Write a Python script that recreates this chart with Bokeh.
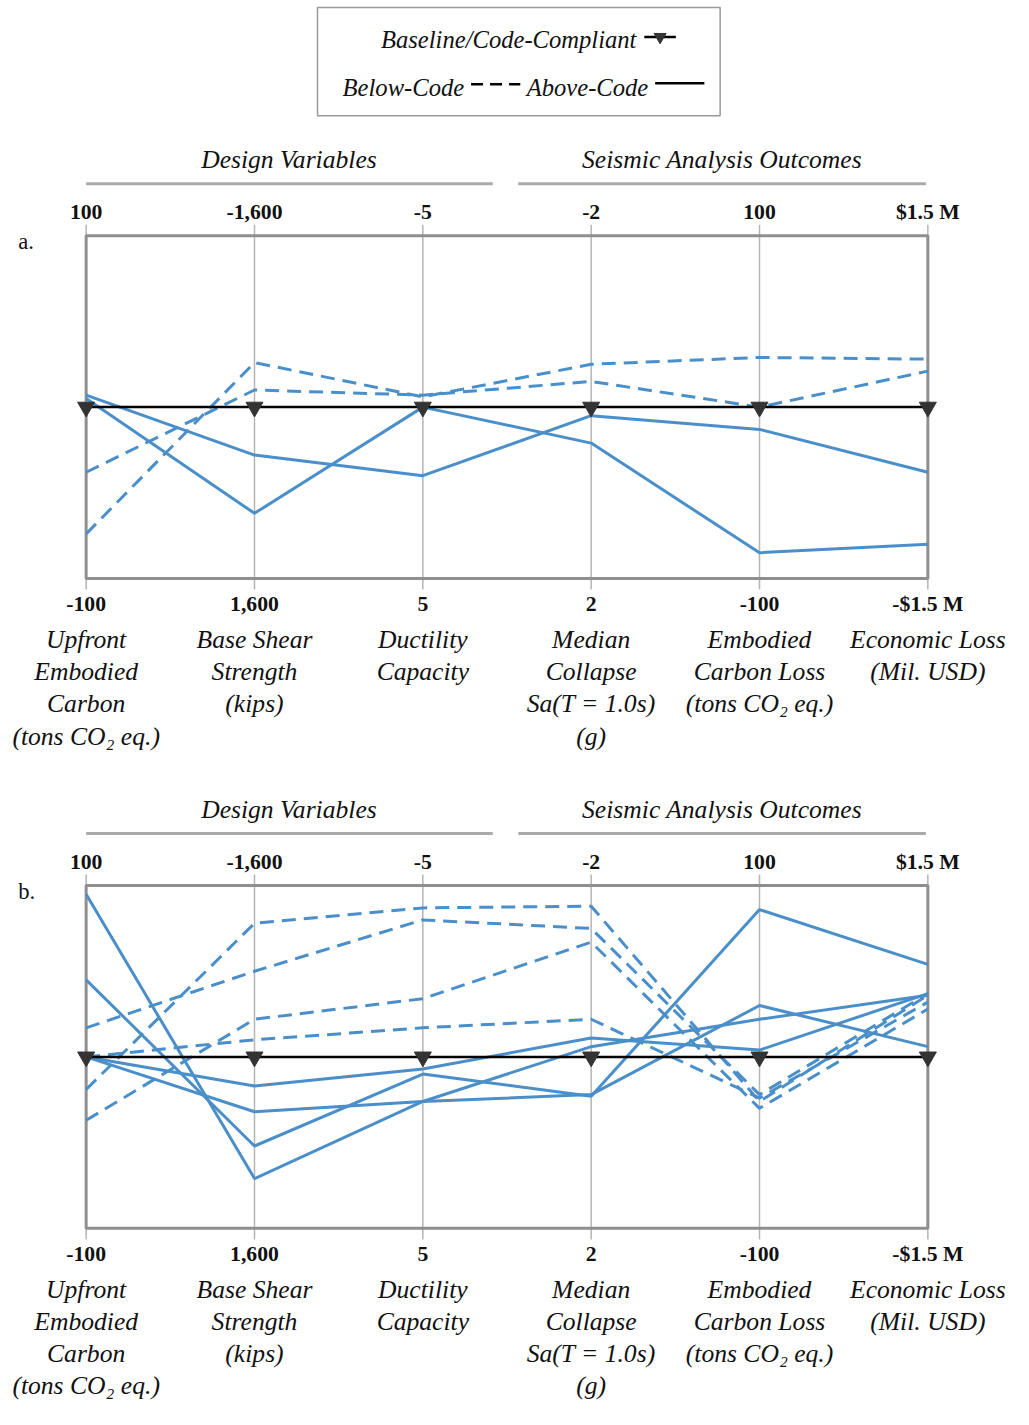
from bokeh.plotting import figure
from bokeh.models import Range1d
from bokeh.embed import file_html
from bokeh.resources import INLINE
from bokeh.core.properties import value

# ---------------- data ----------------
axis_pos = [0, 1, 2, 3, 4, 5]
top_labels = ["100", "-1,600", "-5", "-2", "100", "$1.5 M"]
bottom_labels = ["-100", "1,600", "5", "2", "-100", "-$1.5 M"]
axis_titles = [
    ["Upfront", "Embodied", "Carbon", "(tons CO\u2082 eq.)"],
    ["Base Shear", "Strength", "(kips)"],
    ["Ductility", "Capacity"],
    ["Median", "Collapse", "Sa(T = 1.0s)", "(g)"],
    ["Embodied", "Carbon Loss", "(tons CO\u2082 eq.)"],
    ["Economic Loss", "(Mil. USD)"],
]
group_names = ["Design Variables", "Seismic Analysis Outcomes"]
panel_names = ["a.", "b."]
baseline = [0, 0, 0, 0, 0, 0]

# normalised change relative to baseline (+1 = top label, -1 = bottom label)
a_below_code = [
    [-0.74, 0.26, 0.06, 0.25, 0.29, 0.28],
    [-0.38, 0.10, 0.07, 0.15, 0.00, 0.21],
]
a_above_code = [
    [0.07, -0.28, -0.40, -0.05, -0.13, -0.38],
    [0.05, -0.62, 0.00, -0.21, -0.85, -0.80],
]
b_below_code = [
    [-0.19, 0.78, 0.87, 0.88, -0.26, 0.36],
    [0.17, 0.50, 0.80, 0.75, -0.22, 0.37],
    [-0.37, 0.22, 0.34, 0.67, -0.30, 0.28],
    [0.00, 0.10, 0.17, 0.22, -0.24, 0.32],
]
b_above_code = [
    [0.00, -0.17, -0.07, 0.11, 0.04, 0.37],
    [0.95, -0.71, -0.26, 0.06, 0.22, 0.36],
    [0.45, -0.52, -0.10, -0.23, 0.86, 0.54],
    [0.00, -0.32, -0.26, -0.22, 0.30, 0.06],
]

legend_items = ["Baseline/Code-Compliant", "Below-Code", "Above-Code"]

# ---------------- layout helpers (reference pixel -> data) ----------------
REF_W, REF_H = 1029.0, 1425.0
W = 1013
S = W / REF_W
H = int(round(REF_H * S))
PX0 = 87.0       # x of first axis
PXU = 171.0      # px per axis step
PYU = 174.0      # px per unit of normalised value
BOX_TOP = {"a": 239.0, "b": 899.0}


def X(px):
    return (px - PX0) / PXU


def Y(py, panel="a"):
    return 1.0 - (py - BOX_TOP[panel]) / PYU


def fs(px):
    return "%.1fpx" % (px * S)


p = figure(width=W, height=H, output_backend="svg", toolbar_location=None,
           x_range=Range1d(X(0), X(REF_W)),
           y_range=Range1d(Y(REF_H, "a"), Y(0, "a")),
           min_border=0, outline_line_color=None)
p.extra_y_ranges = {"b": Range1d(Y(REF_H, "b"), Y(0, "b"))}
p.xaxis.visible = False
p.yaxis.visible = False
p.grid.visible = False
p.background_fill_color = "white"
p.border_fill_color = "white"

SERIF = value("Liberation Serif")
BLUE = "#4a8fca"
GRID = "#b5b5b5"
FRAME = "#8f8f8f"
INK = "#111111"

# ---------------- legend ----------------
p.quad(left=X(322), right=X(731), top=Y(7), bottom=Y(117),
       fill_color=None, line_color="#9a9a9a", line_width=1.5)
p.text(x=[X(646), X(471), X(658)], y=[Y(40), Y(88), Y(88)], text=legend_items,
       text_font=SERIF, text_font_style="italic", text_font_size=fs(25),
       text_align="right", text_baseline="middle", text_color=INK)
p.line([X(654), X(686)], [Y(37), Y(37)], line_color="black", line_width=2.5)
p.scatter([X(670)], [Y(37)], marker="inverted_triangle", size=12, color="#333333")
p.line([X(478), X(528)], [Y(85), Y(85)], line_color="black", line_width=2.5,
       line_dash="12 7")
p.line([X(665), X(715)], [Y(84), Y(84)], line_color="black", line_width=2.5)

# ---------------- panels ----------------
panels = [
    ("a", a_below_code, a_above_code),
    ("b", b_below_code, b_above_code),
]
for idx, (name, below, above) in enumerate(panels):
    top = BOX_TOP[name]
    bot = top + 2 * PYU
    rng = "b" if name == "b" else "default"
    # group headers and rules
    p.text(x=[X(293), X(733)], y=[Y(top - 77)] * 2, text=group_names,
           text_font=SERIF, text_font_style="italic", text_font_size=fs(26),
           text_align="center", text_baseline="middle", text_color=INK)
    p.segment(x0=[X(87), X(526)], x1=[X(500), X(940)],
              y0=[Y(top - 53)] * 2, y1=[Y(top - 53)] * 2,
              line_color="#aaaaaa", line_width=3)
    # panel letter
    p.text(x=[X(18)], y=[Y(top + 6)], text=[panel_names[idx]],
           text_font=SERIF, text_font_size=fs(23), text_align="left",
           text_baseline="middle", text_color=INK)
    # top / bottom tick labels
    p.text(x=axis_pos, y=[Y(top - 24)] * 6, text=top_labels,
           text_font=SERIF, text_font_style="bold", text_font_size=fs(22),
           text_align="center", text_baseline="middle", text_color=INK)
    p.text(x=axis_pos, y=[Y(bot + 26)] * 6, text=bottom_labels,
           text_font=SERIF, text_font_style="bold", text_font_size=fs(22),
           text_align="center", text_baseline="middle", text_color=INK)
    # axis titles
    tx, ty, tt = [], [], []
    for i, lines in enumerate(axis_titles):
        for k, s in enumerate(lines):
            tx.append(axis_pos[i])
            ty.append(Y(bot + 62 + 32.7 * k))
            tt.append(s)
    p.text(x=tx, y=ty, text=tt, text_font=SERIF, text_font_style="italic",
           text_font_size=fs(26), text_align="center", text_baseline="middle",
           text_color=INK)

    # vertical axes (ticks extend beyond the box)
    p.segment(x0=axis_pos, x1=axis_pos, y0=[1.065] * 6, y1=[-1.065] * 6,
              line_color=GRID, line_width=1.5, y_range_name=rng)
    # plot box
    p.quad(left=[axis_pos[0]], right=[axis_pos[-1]], top=[1], bottom=[-1],
           fill_color=None, line_color=FRAME, line_width=3, y_range_name=rng)

    p.multi_line(xs=[axis_pos] * len(below), ys=below, line_color=BLUE,
                 line_width=3, line_dash="14 8", y_range_name=rng)
    p.multi_line(xs=[axis_pos] * len(above), ys=above, line_color=BLUE,
                 line_width=3, y_range_name=rng)
    p.line(axis_pos, baseline, line_color="black", line_width=2.5, y_range_name=rng)
    p.scatter(axis_pos, baseline, marker="inverted_triangle", size=17,
              color="#333333", y_range_name=rng)

open("out.html", "w").write(file_html(p, INLINE))
